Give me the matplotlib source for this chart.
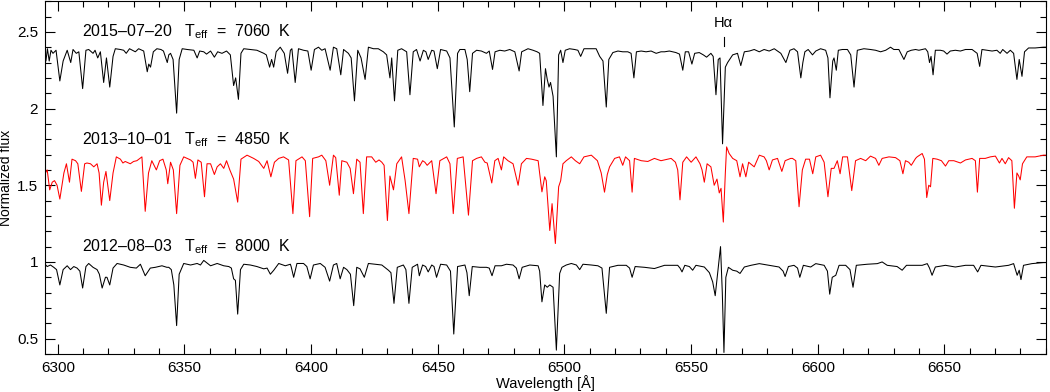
import matplotlib
matplotlib.use("Agg")
import matplotlib.pyplot as plt
from matplotlib.ticker import MultipleLocator, FormatStrFormatter
import numpy as np

plt.rcParams["font.family"] = ["Liberation Sans", "DejaVu Sans"]
plt.rcParams["mathtext.fontset"] = "custom"
plt.rcParams["mathtext.rm"] = "Liberation Sans"

# normalized spectra, (wavelength [A], flux) vertices
spec_2015 = [
    (6294.7, 0.99), (6295.3, 0.91), (6295.9, 0.99), (6296.6, 0.91), (6297.3, 0.98), (6298.1, 0.96),
    (6299.3, 0.98), (6300.8, 0.78), (6302.1, 0.91), (6303.7, 0.98), (6305.1, 0.90), (6306.0, 0.985),
    (6307.3, 0.96), (6308.3, 0.97), (6309.8, 0.73), (6311.1, 0.98), (6312.2, 0.985), (6313.9, 0.96),
    (6314.7, 0.98), (6315.75, 0.93), (6316.8, 0.97), (6318.1, 0.77), (6319.2, 0.93), (6320.5, 0.74),
    (6321.8, 0.94), (6322.7, 0.99), (6324.7, 0.985), (6326.0, 0.98), (6327.0, 0.96), (6328.3, 0.99),
    (6330.6, 0.97), (6331.9, 0.99), (6333.9, 0.975), (6335.3, 0.84), (6335.9, 0.89), (6336.6, 0.87),
    (6337.7, 0.97), (6339.1, 0.99), (6340.7, 0.985), (6341.7, 0.975), (6343.2, 0.90), (6343.8, 0.95),
    (6344.5, 0.96), (6345.5, 0.92), (6346.9, 0.57), (6347.9, 0.92), (6349.1, 0.99), (6351.1, 0.985),
    (6353.7, 0.98), (6355.0, 0.93), (6356.0, 0.975), (6357.6, 0.97), (6358.7, 0.955), (6360.3, 0.975),
    (6361.8, 0.935), (6363.1, 0.97), (6364.8, 0.96), (6366.6, 0.975), (6368.1, 0.95), (6369.4, 0.75),
    (6370.2, 0.80), (6371.3, 0.66), (6372.3, 0.96), (6373.4, 0.99), (6376.0, 0.985), (6378.6, 0.98),
    (6381.3, 0.96), (6382.3, 0.95), (6383.6, 0.87), (6384.4, 0.92), (6385.2, 0.87), (6386.2, 0.97),
    (6387.8, 1.00), (6389.4, 0.96), (6390.7, 0.83), (6391.8, 0.98), (6392.4, 0.99), (6393.7, 0.77),
    (6395.0, 0.99), (6397.0, 0.98), (6398.7, 0.975), (6400.0, 0.85), (6401.3, 0.985), (6402.9, 1.00),
    (6404.2, 0.98), (6405.5, 0.99), (6407.5, 0.85), (6408.8, 1.00), (6410.1, 0.99), (6411.7, 0.82),
    (6412.8, 0.985), (6414.7, 0.96), (6415.8, 0.93), (6417.1, 0.65), (6418.4, 0.98), (6419.7, 0.93),
    (6421.3, 0.79), (6422.6, 1.00), (6424.6, 0.99), (6426.5, 0.99), (6428.5, 0.97), (6429.8, 0.95),
    (6431.1, 0.80), (6431.8, 0.93), (6432.9, 0.65), (6434.2, 0.98), (6435.7, 0.99), (6437.7, 0.97),
    (6439.0, 0.69), (6440.3, 0.97), (6441.6, 0.985), (6443.0, 0.91), (6444.3, 0.98), (6445.3, 0.97),
    (6446.2, 0.92), (6447.6, 0.98), (6448.5, 0.975), (6449.8, 0.86), (6451.1, 0.985), (6453.5, 0.975),
    (6454.8, 0.93), (6456.5, 0.48), (6457.8, 0.96), (6458.7, 0.985), (6460.7, 0.985), (6461.6, 0.92),
    (6462.6, 0.71), (6463.7, 0.96), (6465.3, 0.98), (6467.2, 0.975), (6469.2, 0.96), (6470.3, 0.975),
    (6471.6, 0.855), (6472.6, 0.97), (6474.5, 0.98), (6476.4, 0.975), (6478.4, 0.985), (6480.4, 0.97),
    (6482.1, 0.845), (6483.1, 0.97), (6485.6, 0.99), (6487.6, 0.98), (6489.2, 0.97), (6490.2, 0.96),
    (6491.5, 0.62), (6492.5, 0.86), (6493.2, 0.79), (6493.9, 0.74), (6494.5, 0.77), (6495.5, 0.68),
    (6496.8, 0.285), (6497.7, 0.95), (6498.5, 0.98), (6499.4, 0.90), (6500.3, 0.98), (6502.0, 0.99),
    (6504.0, 0.985), (6505.3, 0.98), (6506.4, 0.94), (6507.7, 0.99), (6509.9, 0.99), (6512.5, 0.99),
    (6513.9, 0.94), (6515.2, 0.91), (6516.5, 0.61), (6517.5, 0.92), (6519.1, 0.965), (6521.1, 0.975),
    (6523.0, 0.97), (6525.0, 0.97), (6526.3, 0.96), (6527.4, 0.80), (6528.4, 0.97), (6530.3, 0.975),
    (6532.2, 0.97), (6534.2, 0.975), (6536.2, 0.96), (6538.1, 0.97), (6539.5, 0.97), (6541.4, 0.975),
    (6544.0, 0.965), (6545.4, 0.955), (6546.7, 0.85), (6547.7, 0.97), (6549.0, 0.97), (6550.3, 0.89),
    (6551.4, 0.96), (6553.2, 0.965), (6554.8, 0.95), (6556.1, 0.935), (6557.8, 0.96), (6558.7, 0.94),
    (6559.8, 0.69), (6560.7, 0.92), (6561.4, 0.93), (6562.4, 0.37), (6563.5, 0.87), (6564.4, 0.90),
    (6566.4, 0.95), (6568.3, 0.96), (6569.6, 0.88), (6571.0, 0.97), (6573.0, 0.975), (6574.9, 0.985),
    (6576.9, 0.97), (6578.8, 0.985), (6580.8, 0.975), (6582.8, 0.99), (6585.4, 0.96), (6587.4, 0.90),
    (6589.0, 0.98), (6590.6, 0.99), (6592.0, 0.97), (6593.3, 0.80), (6594.1, 0.90), (6594.9, 0.97),
    (6596.2, 0.985), (6597.9, 0.95), (6599.2, 0.975), (6601.1, 0.99), (6603.1, 0.98), (6604.0, 0.93),
    (6604.8, 0.67), (6605.9, 0.91), (6606.4, 0.93), (6607.3, 0.85), (6608.1, 0.98), (6609.7, 0.985),
    (6611.7, 0.985), (6613.0, 0.95), (6614.3, 0.74), (6615.6, 0.98), (6618.2, 0.99), (6620.8, 0.985),
    (6622.8, 0.98), (6624.8, 0.97), (6626.8, 0.98), (6628.7, 1.00), (6630.0, 0.985), (6632.0, 0.985),
    (6634.0, 0.92), (6635.3, 0.97), (6636.9, 0.98), (6638.6, 0.985), (6639.9, 0.98), (6642.5, 0.99),
    (6643.4, 0.97), (6644.1, 0.90), (6644.7, 0.94), (6645.5, 0.82), (6646.4, 0.98), (6648.4, 0.98),
    (6649.7, 0.975), (6651.0, 0.955), (6652.3, 0.975), (6654.3, 0.98), (6656.3, 0.975), (6658.3, 0.985),
    (6660.9, 0.985), (6662.9, 0.96), (6663.9, 0.875), (6664.8, 0.985), (6666.8, 0.98), (6668.8, 0.975),
    (6670.7, 0.98), (6672.0, 0.96), (6673.0, 0.985), (6674.7, 0.96), (6676.0, 0.98), (6677.3, 0.96),
    (6678.6, 0.79), (6679.5, 0.92), (6680.6, 0.81), (6681.6, 0.97), (6683.2, 0.995), (6685.8, 0.995),
    (6689.1, 1.00), (6690.0, 1.00),
]

spec_2013 = [
    (6294.7, 0.95), (6295.1, 0.88), (6295.8, 0.90), (6296.8, 0.77), (6297.8, 0.82), (6298.7, 0.83),
    (6299.7, 0.80), (6300.8, 0.71), (6302.4, 0.88), (6303.4, 0.94), (6304.6, 0.82), (6305.6, 0.97),
    (6307.0, 0.96), (6307.9, 0.94), (6309.3, 0.76), (6310.6, 0.94), (6311.5, 0.945), (6312.9, 0.94),
    (6314.2, 0.92), (6315.5, 0.94), (6316.3, 0.88), (6317.2, 0.67), (6318.1, 0.82), (6319.0, 0.89),
    (6320.5, 0.70), (6321.8, 0.88), (6323.1, 0.985), (6324.7, 0.97), (6325.7, 0.945), (6326.6, 0.955),
    (6328.6, 0.94), (6329.9, 0.955), (6331.2, 0.96), (6333.2, 0.985), (6334.5, 0.63), (6335.8, 0.88),
    (6337.1, 0.96), (6338.9, 0.90), (6340.2, 0.96), (6341.5, 0.97), (6342.8, 0.90), (6343.4, 0.81),
    (6344.5, 0.95), (6345.6, 0.90), (6346.9, 0.615), (6348.2, 0.93), (6349.7, 0.985), (6352.4, 0.965),
    (6353.4, 0.95), (6354.3, 0.845), (6355.3, 0.965), (6356.6, 0.95), (6357.9, 0.725), (6358.9, 0.94),
    (6360.3, 0.94), (6361.8, 0.87), (6362.9, 0.92), (6364.2, 0.94), (6365.5, 0.91), (6366.6, 0.96),
    (6367.9, 0.90), (6369.4, 0.84), (6371.0, 0.69), (6372.3, 0.97), (6374.7, 0.996), (6377.3, 0.975),
    (6379.3, 0.955), (6381.3, 0.91), (6382.6, 0.96), (6384.1, 0.855), (6385.5, 0.95), (6387.2, 0.975),
    (6389.1, 0.985), (6391.1, 0.965), (6392.8, 0.615), (6394.0, 0.96), (6396.4, 0.985), (6397.7, 0.96),
    (6399.4, 0.595), (6400.6, 0.975), (6402.9, 0.985), (6404.2, 0.996), (6405.8, 0.96), (6407.3, 0.80),
    (6408.8, 0.996), (6409.7, 0.98), (6411.1, 0.735), (6412.1, 0.96), (6414.1, 0.95), (6415.4, 0.91),
    (6416.7, 0.745), (6418.0, 0.97), (6419.3, 0.95), (6420.6, 0.615), (6421.9, 0.985), (6423.9, 0.985),
    (6425.5, 0.95), (6426.8, 0.965), (6427.9, 0.95), (6428.8, 0.93), (6430.1, 0.57), (6431.1, 0.86),
    (6432.5, 0.77), (6433.8, 0.94), (6435.7, 0.985), (6437.1, 0.83), (6438.6, 0.615), (6440.3, 0.975),
    (6442.0, 0.97), (6442.7, 0.92), (6444.0, 0.96), (6444.9, 0.95), (6445.8, 0.93), (6447.6, 0.96),
    (6449.3, 0.745), (6450.8, 0.96), (6453.5, 0.985), (6454.8, 0.94), (6456.1, 0.615), (6457.7, 0.975),
    (6460.0, 0.985), (6462.1, 0.605), (6463.7, 0.96), (6465.3, 0.975), (6467.2, 0.985), (6468.6, 0.95),
    (6469.5, 0.945), (6471.3, 0.815), (6472.5, 0.96), (6473.8, 0.975), (6475.1, 0.90), (6476.0, 0.985),
    (6477.7, 0.96), (6479.7, 0.94), (6481.7, 0.80), (6483.0, 0.94), (6485.0, 0.975), (6487.0, 0.97),
    (6489.6, 0.96), (6491.1, 0.757), (6492.2, 0.855), (6492.8, 0.83), (6494.2, 0.505), (6495.1, 0.68),
    (6496.4, 0.42), (6497.7, 0.79), (6498.5, 0.83), (6499.4, 0.94), (6500.7, 0.96), (6502.7, 0.985),
    (6504.3, 0.96), (6506.0, 0.94), (6507.7, 0.985), (6510.6, 0.996), (6513.0, 0.96), (6514.5, 0.88),
    (6515.8, 0.755), (6516.9, 0.87), (6517.8, 0.92), (6519.8, 0.975), (6521.7, 0.985), (6523.0, 0.93),
    (6524.1, 0.985), (6525.7, 0.96), (6526.7, 0.755), (6527.6, 0.975), (6530.3, 0.96), (6532.9, 0.955),
    (6535.5, 0.975), (6538.1, 0.96), (6540.8, 0.97), (6542.1, 0.975), (6543.8, 0.95), (6544.7, 0.90),
    (6545.6, 0.705), (6546.7, 0.95), (6548.2, 0.985), (6550.0, 0.95), (6551.9, 0.985), (6553.5, 0.94),
    (6554.3, 0.90), (6555.2, 0.82), (6556.3, 0.94), (6557.8, 0.92), (6559.1, 0.80), (6560.2, 0.84),
    (6561.1, 0.75), (6561.8, 0.78), (6562.7, 0.56), (6563.5, 0.88), (6564.0, 1.05), (6565.0, 1.007),
    (6566.4, 0.975), (6568.0, 0.96), (6569.3, 0.855), (6570.3, 0.94), (6571.6, 0.855), (6572.7, 0.95),
    (6574.9, 0.92), (6576.9, 0.996), (6578.8, 0.985), (6579.7, 0.96), (6580.8, 0.90), (6582.1, 0.965),
    (6584.1, 0.975), (6585.8, 0.89), (6587.1, 0.96), (6589.3, 0.975), (6590.0, 0.975), (6591.3, 0.96),
    (6592.6, 0.66), (6593.9, 0.90), (6595.2, 0.97), (6596.7, 0.97), (6598.0, 0.875), (6599.2, 0.985),
    (6601.1, 0.996), (6602.5, 0.95), (6604.0, 0.725), (6605.3, 0.91), (6606.4, 0.91), (6607.7, 0.96),
    (6608.8, 0.875), (6609.8, 0.985), (6611.7, 0.985), (6613.4, 0.765), (6614.9, 0.96), (6616.9, 0.975),
    (6618.9, 0.96), (6620.8, 0.99), (6622.8, 0.975), (6624.1, 0.93), (6625.4, 0.975), (6628.1, 0.985),
    (6630.7, 0.98), (6632.4, 0.96), (6633.6, 0.875), (6634.6, 0.96), (6635.9, 0.95), (6636.9, 0.93),
    (6638.6, 0.975), (6639.2, 0.985), (6641.2, 1.007), (6642.1, 0.97), (6643.0, 0.72), (6643.8, 0.80),
    (6644.5, 0.79), (6645.4, 0.975), (6647.1, 0.97), (6648.8, 0.96), (6650.4, 0.925), (6651.7, 0.96),
    (6653.7, 0.96), (6656.3, 0.945), (6658.3, 0.965), (6660.9, 0.975), (6662.2, 0.96), (6663.0, 0.755),
    (6663.9, 0.975), (6666.1, 0.975), (6668.1, 0.985), (6670.1, 0.99), (6671.7, 0.945), (6672.7, 0.975),
    (6674.0, 0.94), (6675.3, 0.98), (6676.6, 0.96), (6677.6, 0.65), (6678.6, 0.88), (6679.3, 0.86),
    (6679.9, 0.835), (6680.8, 0.94), (6682.5, 0.985), (6685.8, 0.985), (6689.1, 0.996), (6690.0, 0.996),
]

spec_2012 = [
    (6294.7, 0.99), (6295.8, 0.97), (6297.1, 0.98), (6298.4, 0.965), (6299.5, 0.95), (6300.8, 0.85),
    (6302.1, 0.95), (6303.7, 0.975), (6305.0, 0.95), (6306.3, 0.97), (6307.6, 0.96), (6308.7, 0.94),
    (6309.8, 0.83), (6311.1, 0.97), (6312.2, 0.99), (6313.9, 0.965), (6315.5, 0.95), (6316.4, 0.92),
    (6317.5, 0.83), (6318.8, 0.90), (6319.4, 0.90), (6320.5, 0.85), (6321.8, 0.96), (6323.4, 0.99),
    (6326.0, 0.98), (6328.6, 0.965), (6331.0, 0.96), (6332.6, 0.985), (6334.5, 0.91), (6336.5, 0.96),
    (6338.5, 0.965), (6341.1, 0.975), (6343.05, 0.965), (6343.8, 0.965), (6344.8, 0.95), (6345.8, 0.85),
    (6346.9, 0.585), (6347.9, 0.92), (6349.7, 0.99), (6352.4, 0.98), (6355.0, 0.99), (6356.3, 0.98),
    (6357.6, 1.01), (6360.3, 0.975), (6362.9, 0.99), (6365.5, 0.975), (6367.5, 0.97), (6368.5, 0.96),
    (6369.4, 0.89), (6370.1, 0.88), (6371.0, 0.66), (6372.1, 0.95), (6373.4, 0.985), (6376.0, 0.98),
    (6378.6, 0.97), (6381.3, 0.955), (6382.6, 0.96), (6383.9, 0.92), (6385.2, 0.945), (6387.2, 0.99),
    (6389.8, 0.975), (6391.8, 0.985), (6392.1, 0.97), (6393.1, 0.90), (6394.4, 0.99), (6397.0, 0.99),
    (6398.3, 0.97), (6399.6, 0.89), (6400.9, 0.98), (6403.6, 0.99), (6405.5, 0.965), (6407.3, 0.875),
    (6408.8, 0.98), (6410.1, 0.99), (6411.45, 0.89), (6412.8, 0.965), (6414.1, 0.95), (6415.5, 0.92),
    (6416.8, 0.715), (6418.0, 0.965), (6419.3, 0.955), (6421.0, 0.90), (6422.6, 0.99), (6425.2, 0.985),
    (6427.9, 0.98), (6430.5, 0.946), (6431.5, 0.93), (6432.7, 0.73), (6434.0, 0.965), (6436.4, 0.98),
    (6437.4, 0.95), (6438.6, 0.73), (6439.9, 0.965), (6442.0, 0.985), (6442.7, 0.91), (6444.0, 0.98),
    (6445.2, 0.97), (6446.2, 0.935), (6447.6, 0.98), (6448.5, 0.97), (6449.5, 0.90), (6451.1, 0.985),
    (6453.5, 0.98), (6455.0, 0.94), (6456.3, 0.53), (6457.8, 0.97), (6460.7, 0.98), (6461.5, 0.93),
    (6462.4, 0.78), (6463.6, 0.97), (6466.6, 0.965), (6469.2, 0.965), (6470.3, 0.96), (6471.4, 0.91),
    (6472.6, 0.975), (6475.1, 0.975), (6477.1, 0.985), (6479.7, 0.98), (6481.0, 0.96), (6482.1, 0.89),
    (6483.3, 0.965), (6486.3, 0.98), (6489.6, 0.975), (6490.2, 0.94), (6491.1, 0.74), (6492.2, 0.85),
    (6493.2, 0.835), (6494.2, 0.85), (6495.5, 0.835), (6496.8, 0.425), (6498.1, 0.925), (6499.0, 0.965),
    (6500.7, 0.98), (6502.7, 0.99), (6504.7, 0.98), (6506.0, 0.95), (6507.3, 0.985), (6510.6, 0.98),
    (6513.2, 0.975), (6514.8, 0.96), (6516.5, 0.665), (6517.8, 0.965), (6521.1, 0.978), (6524.4, 0.978),
    (6525.7, 0.96), (6526.7, 0.90), (6527.9, 0.97), (6531.6, 0.965), (6535.5, 0.957), (6539.5, 0.978),
    (6541.4, 0.978), (6544.7, 0.978), (6545.6, 0.96), (6546.4, 0.935), (6547.5, 0.978), (6549.3, 0.97),
    (6550.6, 0.946), (6551.9, 0.978), (6555.2, 0.967), (6557.2, 0.93), (6558.5, 0.87), (6559.5, 0.78),
    (6560.5, 0.93), (6561.6, 1.10), (6562.3, 0.80), (6562.95, 0.41), (6563.7, 0.90), (6564.7, 0.965),
    (6566.4, 0.946), (6568.0, 0.94), (6569.3, 0.925), (6571.0, 0.967), (6573.6, 0.978), (6576.9, 0.989),
    (6580.8, 0.978), (6584.7, 0.967), (6586.3, 0.94), (6587.1, 0.905), (6588.4, 0.97), (6590.6, 0.978),
    (6592.0, 0.96), (6592.9, 0.90), (6594.3, 0.978), (6597.2, 0.967), (6599.2, 0.989), (6602.5, 0.978),
    (6603.8, 0.94), (6604.7, 0.79), (6605.7, 0.90), (6607.1, 0.913), (6608.4, 0.978), (6611.0, 0.978),
    (6612.7, 0.95), (6613.9, 0.835), (6615.2, 0.978), (6619.5, 0.985), (6623.5, 0.989), (6625.4, 1.00),
    (6627.4, 0.978), (6631.3, 0.97), (6633.3, 0.946), (6635.0, 0.978), (6638.6, 0.978), (6641.2, 0.978),
    (6643.2, 0.989), (6644.1, 0.96), (6645.1, 0.913), (6646.4, 0.967), (6650.4, 0.978), (6654.3, 0.967),
    (6658.3, 0.978), (6661.5, 0.978), (6663.1, 0.935), (6664.4, 0.978), (6670.1, 0.967), (6675.3, 0.978),
    (6677.3, 0.989), (6678.7, 0.913), (6679.5, 0.946), (6680.2, 0.885), (6681.2, 0.978), (6684.5, 0.989),
    (6689.1, 0.996), (6690.0, 0.996),
]

labels = ["2015\u201307\u201320", "2013\u201310\u201301", "2012\u201308\u201303"]
teff = [7060, 4850, 8000]
offsets = [1.4, 0.7, 0.0]
colors = ["black", "red", "black"]
HALPHA = 6562.8

fig = plt.figure(figsize=(10.5, 3.92), dpi=100)
ax = fig.add_axes([0.043, 0.097, 0.953, 0.9])

for spec, off, col, lab, t in zip([spec_2015, spec_2013, spec_2012], offsets, colors, labels, teff):
    wl, fl = np.array(spec).T
    ax.plot(wl, fl + off, color=col, lw=0.75)
    ax.text(6309.5, off + 1.1, f"{lab}   T$_\\mathrm{{eff}}$  =  {t}  K",
            fontsize=11.5, ha="left", va="center")

ax.plot([HALPHA, HALPHA], [2.41, 2.465], color="black", lw=0.8)
ax.text(HALPHA, 2.555, "Hα", fontsize=10.5, ha="center", va="center")

ax.set_xlim(6295, 6690)
ax.set_ylim(0.4, 2.7)
ax.xaxis.set_major_locator(MultipleLocator(50))
ax.xaxis.set_minor_locator(MultipleLocator(10))
ax.yaxis.set_major_locator(MultipleLocator(0.5))
ax.yaxis.set_minor_locator(MultipleLocator(0.1))
ax.yaxis.set_major_formatter(FormatStrFormatter("%g"))
ax.tick_params(which="both", direction="in", top=True, right=True, labelsize=11, width=0.8)
ax.tick_params(which="major", length=7, pad=5)
ax.tick_params(which="minor", length=4.5)
for s in ax.spines.values():
    s.set_linewidth(0.8)

ax.set_xlabel("Wavelength [Å]", fontsize=10.5, labelpad=0)
ax.set_ylabel("Normalized flux", fontsize=10, labelpad=3)

fig.savefig("out.png", dpi=100)
